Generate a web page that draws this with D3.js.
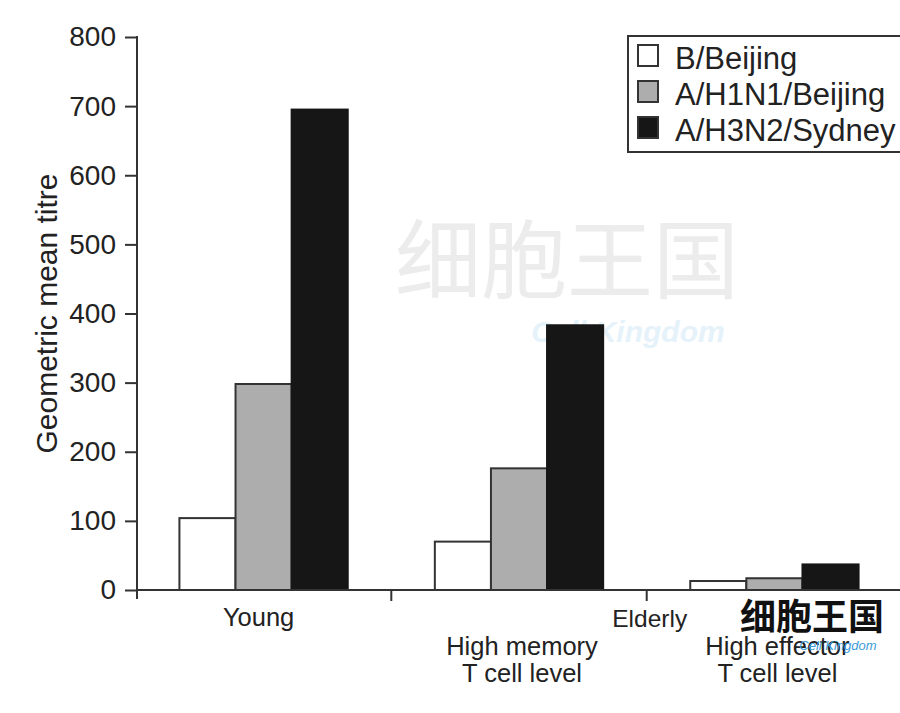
<!DOCTYPE html>
<html>
<head>
<meta charset="utf-8">
<script src="https://cdn.jsdelivr.net/npm/d3@7/dist/d3.min.js"></script>
<style>
  html, body { margin: 0; padding: 0; background: #fff; }
  svg { display: block; font-family: "Liberation Sans", Arial, Helvetica, sans-serif; }
</style>
</head>
<body>
<svg id="chart" width="900" height="713"></svg>
<script>
// ---- data ----
const groups = ["Young", "Elderly high memory", "Elderly high effector"];
const seriesNames = ["B/Beijing", "A/H1N1/Beijing", "A/H3N2/Sydney"];
const bBeijing = [104, 70, 13];
const h1n1Beijing = [298, 176, 17];
const h3n2Sydney = [695, 383, 37];
const yTicks = [0, 100, 200, 300, 400, 500, 600, 700, 800];
const groupLabels = [["Young"], ["High memory", "T cell level"], ["High effector", "T cell level"]];
const superLabel = "Elderly";
const yTitle = "Geometric mean titre";
const seriesColors = ["#ffffff", "#adadad", "#161616"];

const seriesValues = [bBeijing, h1n1Beijing, h3n2Sydney];

const svg = d3.select("#chart");
const axisColor = "#333";

const y = d3.scaleLinear().domain([0, 800]).range([590, 37]);
const x0 = d3.scaleBand().domain(groups).range([136, 902]).paddingInner(0.341).paddingOuter(0.17);
const x1 = d3.scaleBand().domain(seriesNames).range([0, x0.bandwidth()]).padding(0);

// ---- watermarks (light) ----
svg.append("text").attr("x", 567).attr("y", 292).attr("text-anchor", "middle")
  .attr("font-family", "'Noto Sans CJK SC'").attr("font-size", 86).attr("fill", "#ececec")
  .text("细胞王国");
svg.append("text").attr("x", 628).attr("y", 342).attr("text-anchor", "middle")
  .attr("font-size", 30).attr("font-style", "italic").attr("font-weight", "bold").attr("fill", "#e6f2fa")
  .text("Cell Kingdom");

// ---- bars ----
const barData = [];
groups.forEach((g, gi) => {
  seriesNames.forEach((s, si) => {
    barData.push({ g, s, si, v: seriesValues[si][gi] });
  });
});

svg.append("g").selectAll("rect").data(barData).join("rect")
  .attr("x", d => x0(d.g) + x1(d.s))
  .attr("y", d => y(d.v))
  .attr("width", x1.bandwidth())
  .attr("height", d => y(0) - y(d.v))
  .attr("fill", d => seriesColors[d.si])
  .attr("stroke", d => d.si === 2 ? "#161616" : "#333")
  .attr("stroke-width", 2);

// ---- y axis ----
const yAxis = d3.axisLeft(y).tickValues(yTicks).tickSize(12).tickPadding(9).tickFormat(d3.format("d"));
const yG = svg.append("g").attr("transform", "translate(137,0)").call(yAxis);
yG.select(".domain").remove();
yG.selectAll(".tick line").attr("stroke", axisColor).attr("stroke-width", 2);
yG.selectAll(".tick text").attr("font-size", 28).attr("fill", "#222")
  .attr("font-family", "'Liberation Sans', Arial, sans-serif");
svg.append("line").attr("x1", 137).attr("x2", 137).attr("y1", y(800) - 1).attr("y2", y(0) + 9)
  .attr("stroke", axisColor).attr("stroke-width", 2);

// ---- x axis ----
svg.append("line").attr("x1", 136).attr("x2", 900).attr("y1", y(0)).attr("y2", y(0))
  .attr("stroke", axisColor).attr("stroke-width", 2);
const boundaries = [];
for (let i = 0; i < groups.length - 1; i++) {
  boundaries.push((x0(groups[i]) + x0.bandwidth() + x0(groups[i + 1])) / 2);
}
svg.append("g").selectAll("line").data(boundaries).join("line")
  .attr("x1", d => d).attr("x2", d => d).attr("y1", y(0)).attr("y2", y(0) + 11)
  .attr("stroke", axisColor).attr("stroke-width", 2);

// group labels
groupLabels.forEach((lines, gi) => {
  const cx = x0(groups[gi]) + x0.bandwidth() / 2;
  const baseY = lines.length === 1 ? 626 : 655;
  lines.forEach((t, li) => {
    svg.append("text").attr("x", cx + (gi === 0 ? -5 : 3)).attr("y", baseY + li * 27)
      .attr("text-anchor", "middle").attr("font-size", 25.5).attr("fill", "#222").text(t);
  });
});
svg.append("text").attr("x", boundaries[1] + 3).attr("y", 627).attr("text-anchor", "middle")
  .attr("font-size", 24.5).attr("fill", "#222").text(superLabel);

// y title
svg.append("text").attr("transform", `translate(57,${(y(800) + y(0)) / 2 + 0}) rotate(-90)`)
  .attr("text-anchor", "middle").attr("font-size", 30).attr("fill", "#222").text(yTitle);

// ---- legend ----
const lg = svg.append("g");
lg.append("rect").attr("x", 628).attr("y", 36).attr("width", 290).attr("height", 116)
  .attr("fill", "#fff").attr("stroke", axisColor).attr("stroke-width", 2);
seriesNames.forEach((s, i) => {
  const by = 69 + i * 36;
  lg.append("rect").attr("x", 638).attr("y", by - 24).attr("width", 20).attr("height", 21)
    .attr("fill", seriesColors[i]).attr("stroke", "#333").attr("stroke-width", 2);
  lg.append("text").attr("x", 675).attr("y", by).attr("font-size", 31).attr("fill", "#222").text(s);
});

// ---- bottom-right logo watermark ----
svg.append("text").attr("x", 812).attr("y", 630).attr("text-anchor", "middle")
  .attr("font-family", "'Noto Sans CJK SC'").attr("font-size", 36).attr("font-weight", "bold").attr("fill", "#111")
  .text("细胞王国");
svg.append("text").attr("x", 838).attr("y", 650).attr("text-anchor", "middle")
  .attr("font-size", 13).attr("font-style", "italic").attr("fill", "#3a9bd9")
  .text("Cell Kingdom");
</script>
</body>
</html>
